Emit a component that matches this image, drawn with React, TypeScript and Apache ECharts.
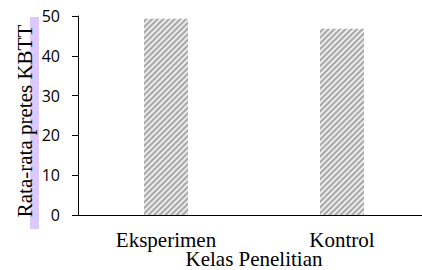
import React, { useEffect, useRef } from "react";
import * as echarts from "echarts";

const categories = ["Eksperimen", "Kontrol"];
const values = [49.3, 46.8];
const yTicks = [0, 10, 20, 30, 40, 50];
const xTitle = "Kelas Penelitian";
const yTitle = "Rata-rata pretes KBTT";

export default function App() {
  const ref = useRef<HTMLDivElement>(null);
  useEffect(() => {
    const chart = echarts.init(ref.current!, null, { renderer: "svg" });
    chart.setOption({
      animation: false,
      grid: { left: 78, top: 16, bottom: 55, right: 10, outerBoundsMode: "none", containLabel: false },
      graphic: [
        {
          type: "rect",
          z: -10,
          shape: { x: 30, y: 17, width: 9, height: 212 },
          style: { fill: "#dcc9f7" },
        },
        {
          type: "text",
          z: 10,
          x: 25,
          y: 121,
          rotation: Math.PI / 2,
          style: {
            text: yTitle,
            fill: "#000",
            font: '21px "Liberation Serif"',
            align: "center",
            verticalAlign: "middle",
          },
        },
        {
          type: "text",
          z: 10,
          x: 254,
          y: 259,
          style: {
            text: xTitle,
            fill: "#000",
            font: '21px "Liberation Serif"',
            align: "center",
            verticalAlign: "middle",
          },
        },
      ],
      xAxis: {
        type: "category",
        data: categories,
        axisLine: { lineStyle: { color: "#000", width: 1 } },
        axisTick: { show: false },
        axisLabel: {
          color: "#000",
          fontFamily: "Liberation Serif",
          fontSize: 21,
          margin: 14,
        },
      },
      yAxis: {
        type: "value",
        min: yTicks[0],
        max: yTicks[yTicks.length - 1],
        interval: 10,
        splitLine: { show: false },
        axisLine: { show: true, lineStyle: { color: "#000", width: 1 } },
        axisTick: { show: true, length: 6, lineStyle: { color: "#000" } },
        axisLabel: {
          color: "#000",
          fontFamily: "Open Sans",
          fontSize: 16,
          margin: 18,
        },
      },
      series: [
        {
          type: "bar",
          data: values,
          barWidth: 44,
          itemStyle: {
            color: "#ececec",
            decal: {
              symbol: "rect",
              dashArrayX: [1, 0],
              dashArrayY: [1.5, 1.8],
              rotation: -Math.PI / 4,
              color: "#a8a8a8",
            },
          },
        },
      ],
    });
    return () => chart.dispose();
  }, []);
  return (
    <div
      style={{ position: "absolute", left: 0, top: 0, width: 422, height: 270, overflow: "hidden", background: "#fff" }}
    >
      <div ref={ref} style={{ width: 440, height: 270 }} />
    </div>
  );
}
